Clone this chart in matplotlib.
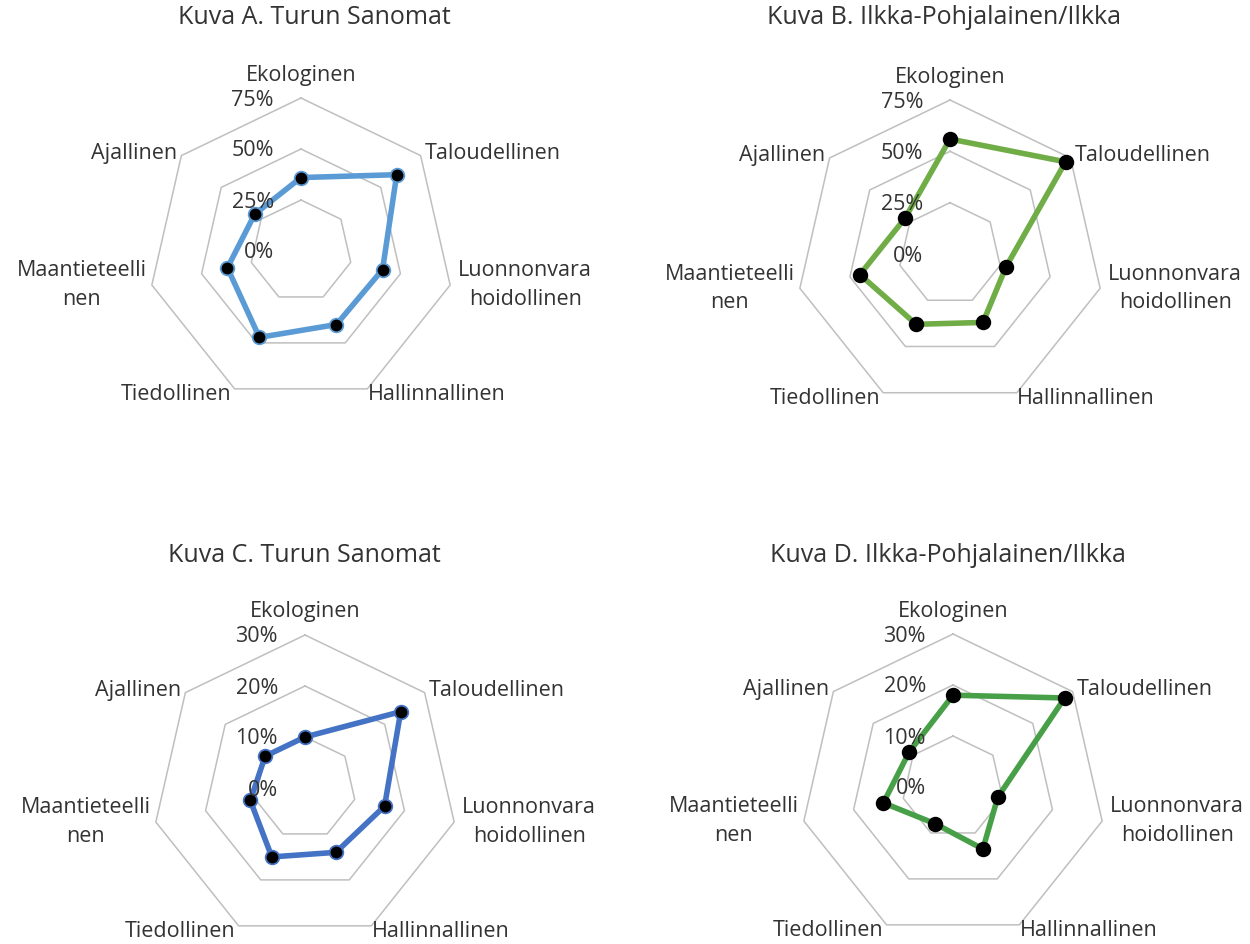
import numpy as np
import matplotlib
matplotlib.use("Agg")
import matplotlib.pyplot as plt

plt.rcParams['font.family'] = ['Open Sans', 'DejaVu Sans']

categories = ["Ekologinen", "Taloudellinen", "Luonnonvara\nhoidollinen", "Hallinnallinen",
              "Tiedollinen", "Maantieteelli\nnen", "Ajallinen"]

titles = ["Kuva A. Turun Sanomat", "Kuva B. Ilkka-Pohjalainen/Ilkka",
          "Kuva C. Turun Sanomat", "Kuva D. Ilkka-Pohjalainen/Ilkka"]

values_a = [0.36, 0.60, 0.41, 0.40, 0.47, 0.37, 0.29]
values_b = [0.56, 0.72, 0.28, 0.37, 0.38, 0.45, 0.28]
values_c = [0.10, 0.24, 0.16, 0.14, 0.15, 0.11, 0.10]
values_d = [0.18, 0.28, 0.09, 0.135, 0.08, 0.14, 0.11]

ticks_ab = [0.0, 0.25, 0.50, 0.75]
ticks_cd = [0.0, 0.10, 0.20, 0.30]
tick_labels_ab = ["0%", "25%", "50%", "75%"]
tick_labels_cd = ["0%", "10%", "20%", "30%"]

W, H = 1250, 944
fig = plt.figure(figsize=(W / 100, H / 100), dpi=100)
TXT = '#333333'
FS = 15.5
TFS = 18

# (center x, center y, radius) in pixels, title center (x, y)
panels = [
    dict(vals=values_a, ticks=ticks_ab, tl=tick_labels_ab, c=(301, 251), R=153,
         color='#5B9BD5', edge='#5B9BD5', title=titles[0], tpos=(314, 18)),
    dict(vals=values_b, ticks=ticks_ab, tl=tick_labels_ab, c=(950, 254), R=154,
         color='#70AD47', edge='black', title=titles[1], tpos=(944, 17)),
    dict(vals=values_c, ticks=ticks_cd, tl=tick_labels_cd, c=(305, 788), R=153,
         color='#4472C4', edge='#4472C4', title=titles[2], tpos=(304, 555)),
    dict(vals=values_d, ticks=ticks_cd, tl=tick_labels_cd, c=(953, 787), R=153,
         color='#47A047', edge='black', title=titles[3], tpos=(948, 555)),
]

n = len(categories)
angles = np.arange(n) * 2 * np.pi / n
closed = np.append(angles, angles[0])

# label placement: (ha, offset_x, offset_y)
label_style = [
    ('center', 0, 23),
    ('left', 4, 2),
    ('left', 8, 0),
    ('left', 0, -6),
    ('right', -3, -6),
    ('right', -5, 0),
    ('right', -4, 2),
]

for p in panels:
    cx, cy = p['c']
    R = p['R']
    ax = fig.add_axes([(cx - R) / W, (H - cy - R) / H, 2 * R / W, 2 * R / H],
                      projection='polar')
    ax.set_theta_offset(np.pi / 2)
    ax.set_theta_direction(-1)
    rmax = p['ticks'][-1]
    ax.set_ylim(0, rmax)
    ax.grid(False)
    ax.spines['polar'].set_visible(False)
    ax.set_xticks([])
    ax.set_yticks([])
    ax.patch.set_alpha(0)
    for r in p['ticks'][1:]:
        ax.plot(closed, [r] * (n + 1), color='#BFBFBF', lw=1.1, zorder=1, clip_on=False)
    v = list(p['vals']) + [p['vals'][0]]
    ax.plot(closed, v, color=p['color'], lw=4.0, zorder=3, clip_on=False,
            solid_joinstyle='round')
    ax.plot(angles, p['vals'], linestyle='none', marker='o', markersize=9.8,
            markerfacecolor='black', markeredgecolor=p['edge'], markeredgewidth=1.3,
            zorder=4, clip_on=False)
    for r, lab in zip(p['ticks'], p['tl']):
        ax.annotate(lab, xy=(0, r), xytext=(-27, -2), textcoords='offset pixels',
                    ha='right', va='center', fontsize=FS, color=TXT, zorder=5,
                    annotation_clip=False)
    for ang, cat, (ha, ox, oy) in zip(angles, categories, label_style):
        ax.annotate(cat, xy=(ang, rmax), xytext=(ox, oy), textcoords='offset pixels',
                    ha=ha, va='center', multialignment='center', fontsize=FS,
                    color=TXT, annotation_clip=False, linespacing=1.45)
    fig.text(p['tpos'][0] / W, 1 - p['tpos'][1] / H, p['title'], ha='center',
             va='center', fontsize=TFS, color=TXT)

fig.savefig('out.png', dpi=100, facecolor='white')
